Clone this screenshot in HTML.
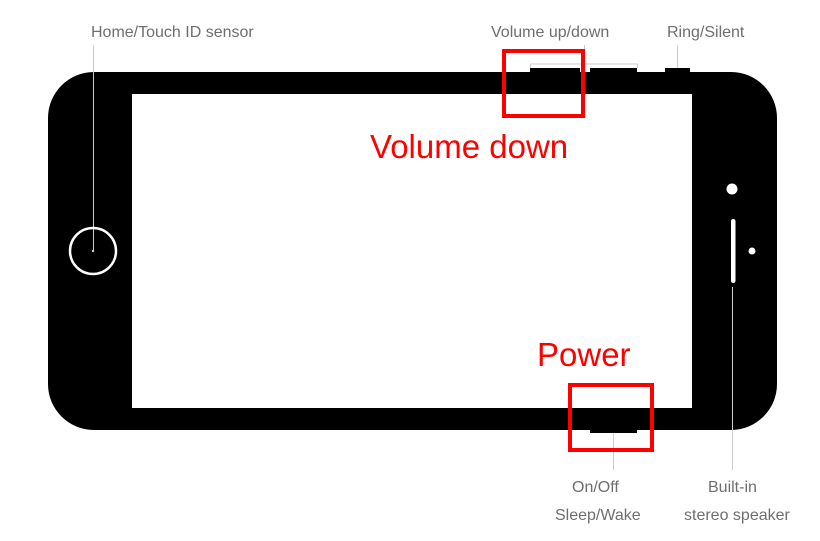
<!DOCTYPE html>
<html><head><meta charset="utf-8"><style>
body{margin:0;width:820px;height:541px;background:#fff;overflow:hidden;position:relative;font-family:"Liberation Sans",sans-serif}
.l{position:absolute;color:#6e6e6e;font-size:16px;white-space:nowrap}
.r{position:absolute;color:#f00;font-size:33px;white-space:nowrap}
</style></head><body>
<svg width="820" height="541" style="position:absolute;left:0;top:0">
<rect x="48" y="72" width="729" height="358" rx="46" fill="#000"/>
<rect x="132" y="94" width="560" height="314" fill="#fff"/>
<rect x="530" y="68" width="50" height="5" fill="#000"/>
<rect x="590" y="68" width="47" height="5" fill="#000"/>
<rect x="665" y="68" width="25" height="5" fill="#000"/>
<rect x="590" y="428" width="47" height="5" fill="#000"/>
<g stroke="#ccc" stroke-width="1" fill="none">
<line x1="93.5" y1="45" x2="93.5" y2="251"/>
<polyline points="530.5,68 530.5,64 637.5,64 637.5,68"/>
<line x1="584.5" y1="45" x2="584.5" y2="64"/>
<line x1="677.5" y1="45" x2="677.5" y2="68"/>
<line x1="613.5" y1="433" x2="613.5" y2="470"/>
<line x1="732.5" y1="287" x2="732.5" y2="470"/>
</g>
<circle cx="93" cy="251" r="23" fill="none" stroke="#fff" stroke-width="2.5"/>
<circle cx="93" cy="251" r="1.2" fill="#ccc"/>
<circle cx="732" cy="189" r="5.5" fill="#fff"/>
<rect x="731" y="219" width="4.5" height="64" rx="2.2" fill="#fff"/>
<circle cx="752" cy="251" r="3.5" fill="#fff"/>
<rect x="504" y="51" width="79" height="65" fill="none" stroke="#f00" stroke-width="4"/>
<rect x="570" y="385" width="82" height="65" fill="none" stroke="#f00" stroke-width="4"/>
</svg>
<div class="l" style="left:91px;top:24px">Home/Touch ID sensor</div>
<div class="l" style="left:491px;top:24px">Volume up/down</div>
<div class="l" style="left:667px;top:24px">Ring/Silent</div>
<div class="l" style="left:572px;top:479px">On/Off</div>
<div class="l" style="left:555px;top:507px">Sleep/Wake</div>
<div class="l" style="left:708px;top:479px">Built-in</div>
<div class="l" style="left:684px;top:507px">stereo speaker</div>
<div class="r" style="left:370px;top:128px">Volume down</div>
<div class="r" style="left:537px;top:336px">Power</div>
</body></html>
